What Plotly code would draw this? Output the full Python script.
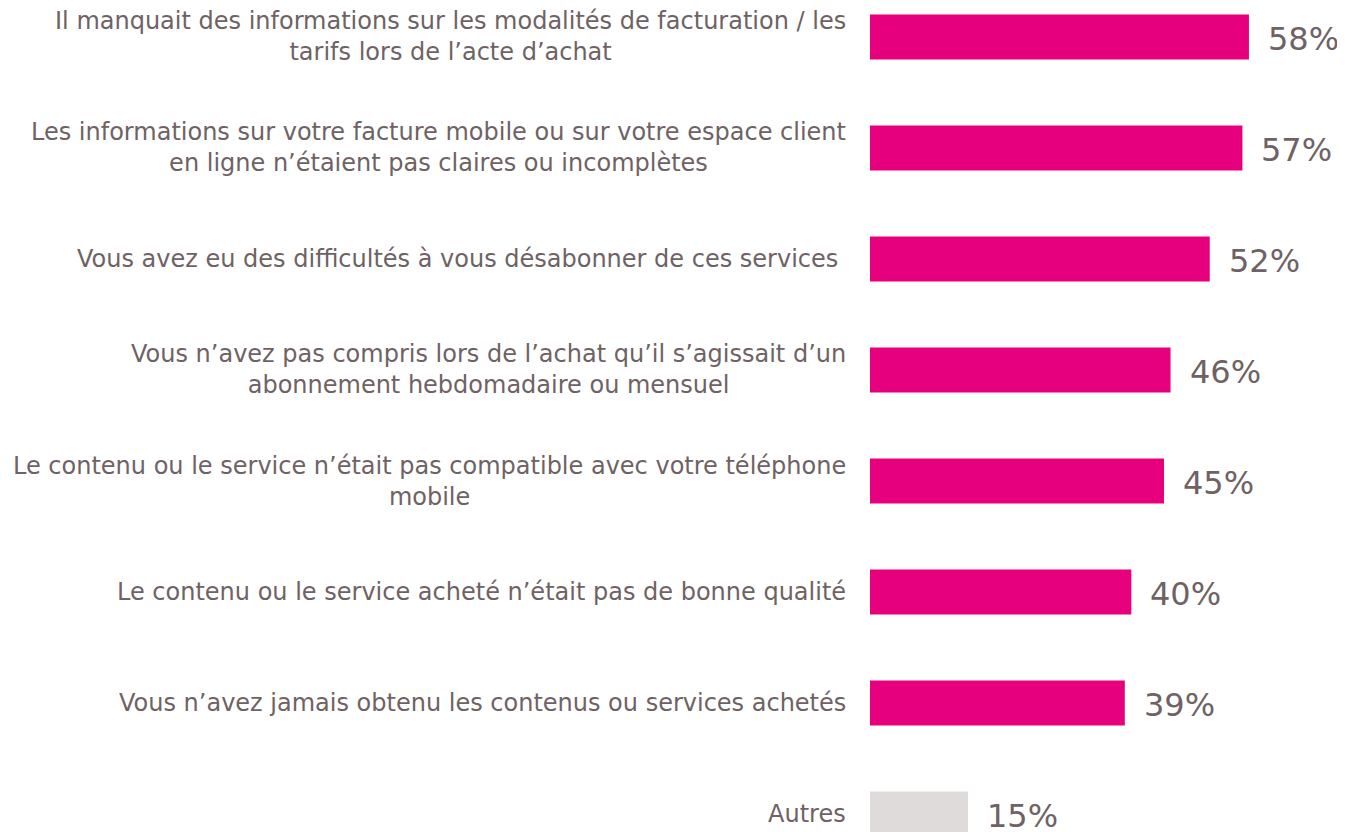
import plotly.graph_objects as go

# libellés des raisons (ordre du haut vers le bas)
labels = [
    "Il manquait des informations sur les modalités de facturation / les<br>tarifs lors de l’acte d’achat",
    "Les informations sur votre facture mobile ou sur votre espace client<br>en ligne n’étaient pas claires ou incomplètes",
    "Vous avez eu des difficultés à vous désabonner de ces services ",
    "Vous n’avez pas compris lors de l’achat qu’il s’agissait d’un<br>abonnement hebdomadaire ou mensuel",
    "Le contenu ou le service n’était pas compatible avec votre téléphone<br>mobile",
    "Le contenu ou le service acheté n’était pas de bonne qualité",
    "Vous n’avez jamais obtenu les contenus ou services achetés",
    "Autres",
]
values = [58, 57, 52, 46, 45, 40, 39, 15]
bar_colors = ["#E6007E"] * 7 + ["#DFDBDB"]

TEXT_COLOR = "#6E6264"
FONT = "DejaVu Sans, Verdana, sans-serif"

fig = go.Figure(go.Bar(
    x=values,
    y=list(range(len(labels))),
    orientation="h",
    marker=dict(color=bar_colors, line=dict(width=0)),
    width=0.405,
    hoverinfo="skip",
))

for i, (lab, v) in enumerate(zip(labels, values)):
    # libellé à gauche de la barre (lignes centrées entre elles)
    fig.add_annotation(
        x=0, xref="paper", y=i, text=lab, showarrow=False,
        xanchor="right", yanchor="middle", align="center", xshift=-22,
        font=dict(family=FONT, size=24, color=TEXT_COLOR),
    )
    # valeur à droite de la barre
    fig.add_annotation(
        x=v, y=i, text=f"{v}%", showarrow=False,
        xanchor="left", yanchor="middle", xshift=17, yshift=-2,
        font=dict(family=FONT, size=32, color=TEXT_COLOR),
    )

fig.update_layout(
    width=1337, height=824,
    margin=dict(l=862, r=0, t=0, b=0),
    plot_bgcolor="white", paper_bgcolor="white",
    showlegend=False,
    font=dict(family=FONT, color=TEXT_COLOR),
    xaxis=dict(range=[0, 72.7], visible=False),
    yaxis=dict(range=[7.162, -0.261], visible=False),
)

fig.write_html("out.html")
